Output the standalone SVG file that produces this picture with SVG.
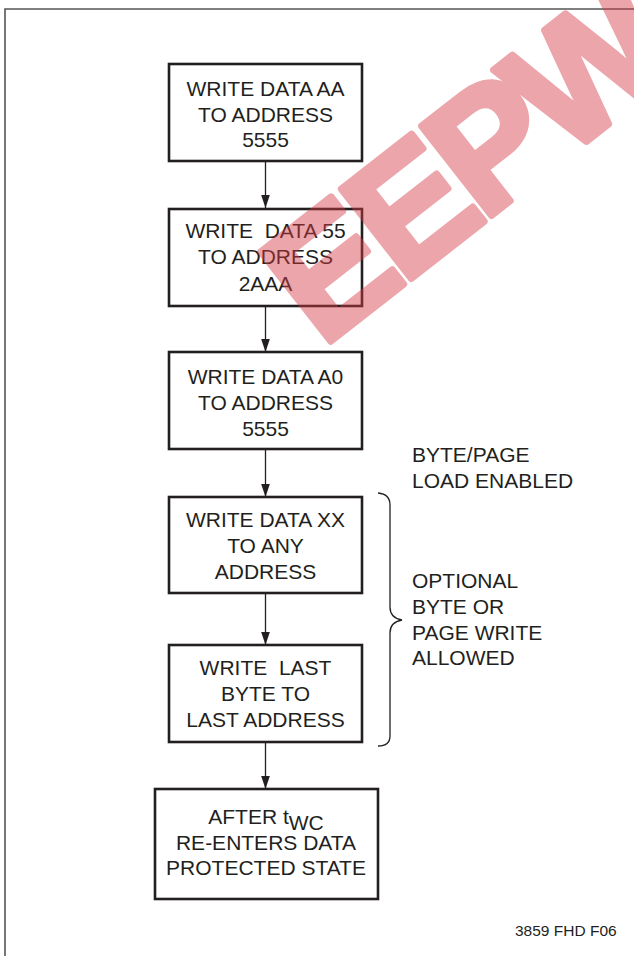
<svg xmlns="http://www.w3.org/2000/svg" width="634" height="956" viewBox="0 0 634 956">
<defs>
<style>
.box{fill:#fff;stroke:#231f20;stroke-width:2.6}
.t{font-family:"Liberation Sans",Arial,sans-serif;font-size:21px;fill:#231f20;text-anchor:middle;white-space:pre}
.l{font-family:"Liberation Sans",Arial,sans-serif;font-size:21px;fill:#231f20;white-space:pre}
.c{stroke:#231f20;stroke-width:1.3;fill:none}
</style>
<marker id="ahd" markerUnits="userSpaceOnUse" markerWidth="9" markerHeight="13" refX="4" refY="12" orient="0" viewBox="0 0 8 12">
<path d="M0,0 L8,0 L4,12 Z" fill="#231f20"/>
</marker>
</defs>
<rect width="634" height="956" fill="#fff"/>
<path d="M5,956 V9 H634" fill="none" stroke="#555" stroke-width="1.6"/>
<g id="connectors">
<line class="c" x1="265.5" y1="161" x2="265.5" y2="208" marker-end="url(#ahd)"/>
<line class="c" x1="265.5" y1="306" x2="265.5" y2="352" marker-end="url(#ahd)"/>
<line class="c" x1="265.5" y1="449" x2="265.5" y2="497" marker-end="url(#ahd)"/>
<line class="c" x1="265.5" y1="593" x2="265.5" y2="645" marker-end="url(#ahd)"/>
<line class="c" x1="265.5" y1="742" x2="265.5" y2="789" marker-end="url(#ahd)"/>
</g>
<g id="n1"><rect class="box" x="169" y="64" width="193" height="97"/>
<text class="t" x="265.5" y="96">WRITE DATA AA</text><text class="t" x="265.5" y="122">TO ADDRESS</text><text class="t" x="265.5" y="147">5555</text></g>
<g id="n2"><rect class="box" x="169" y="209" width="193" height="97"/>
<text class="t" x="265.5" y="238">WRITE  DATA 55</text><text class="t" x="265.5" y="264">TO ADDRESS</text><text class="t" x="265.5" y="291">2AAA</text></g>
<g id="n3"><rect class="box" x="169" y="352" width="193" height="97"/>
<text class="t" x="265.5" y="384">WRITE DATA A0</text><text class="t" x="265.5" y="410">TO ADDRESS</text><text class="t" x="265.5" y="436">5555</text></g>
<g id="n4"><rect class="box" x="169" y="497" width="193" height="96"/>
<text class="t" x="265.5" y="527">WRITE DATA XX</text><text class="t" x="265.5" y="553">TO ANY</text><text class="t" x="265.5" y="579">ADDRESS</text></g>
<g id="n5"><rect class="box" x="169" y="645" width="193" height="97"/>
<text class="t" x="265.5" y="675">WRITE  LAST</text><text class="t" x="265.5" y="701">BYTE TO</text><text class="t" x="265.5" y="727">LAST ADDRESS</text></g>
<g id="n6"><rect class="box" x="155" y="789" width="223" height="110"/>
<text class="t" x="266" y="824">AFTER t<tspan dy="6">WC</tspan></text><text class="t" x="266" y="850">RE-ENTERS DATA</text><text class="t" x="266" y="875">PROTECTED STATE</text></g>
<g id="brace"><path class="c" d="M378,493 Q390,494 390,505 L390,607 Q390,618 402,620 Q390,622 390,633 L390,736 Q390,746 378,746"/></g>
<g id="labels">
<text class="l" x="412" y="462">BYTE/PAGE</text>
<text class="l" x="412" y="488">LOAD ENABLED</text>
<text class="l" x="412" y="588">OPTIONAL</text>
<text class="l" x="412" y="614">BYTE OR</text>
<text class="l" x="412" y="640">PAGE WRITE</text>
<text class="l" x="412" y="665">ALLOWED</text>
<text class="l" x="515" y="936" style="font-size:15.5px">3859 FHD F06</text>
</g>
<g id="watermark" opacity="0.45">
<text x="0" y="0" transform="translate(322,348) rotate(-38)" style="font-family:'Liberation Sans',Arial,sans-serif;font-weight:bold;font-size:165px;fill:#d63a44;stroke:#d63a44;stroke-width:7;stroke-linejoin:round;letter-spacing:-8px">EEPW</text>
</g>
</svg>
